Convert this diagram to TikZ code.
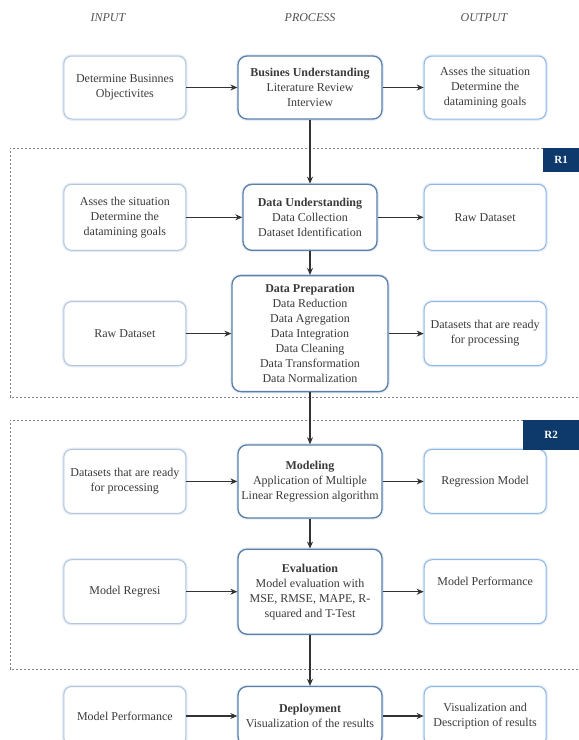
\documentclass[tikz,border=0pt]{standalone}
\usepackage{fontspec}
\setmainfont{Liberation Serif}
\usetikzlibrary{positioning,arrows.meta}
\definecolor{txt}{HTML}{3A3A3A}
\definecolor{procline}{HTML}{5B7FA8}
\definecolor{inline}{HTML}{B3C6DD}
\definecolor{outline}{HTML}{8DB8E6}
\definecolor{glow}{HTML}{E4ECF6}
\definecolor{tagblue}{HTML}{0E3A6B}
\definecolor{dashgray}{HTML}{858585}

\begin{document}
\begin{tikzpicture}
                [%%%%%%%%%%%%%%%%%%%%%%%%%%%%%%%%%%%%%%%%%%%%%%%%%%%%%%%%%%
                    x=1pt,y=-1pt,node distance=51pt,>={Stealth[length=7pt,width=6pt]},
                    font=\fontsize{12}{15}\selectfont,text=txt,
                    proc/.style={rectangle,rounded corners=9pt,draw=procline,line width=1.3pt,fill=white,
                                 align=center,inner sep=2pt,minimum width=144pt,minimum height=63pt,
                                 preaction={draw=glow,line width=3.5pt}},
                    inbox/.style={rectangle,rounded corners=8pt,draw=inline,line width=1pt,fill=white,
                                  align=center,inner sep=2pt,minimum width=122pt,minimum height=64pt,
                                  preaction={draw=glow,line width=3.5pt}},
                    outbox/.style={inbox,draw=outline},
                    head/.style={font=\fontsize{12}{15}\selectfont\itshape,text=black!68},
                    tag/.style={rectangle,fill=tagblue,text=white,anchor=north west,inner sep=0pt,
                                font=\fontsize{11}{13}\selectfont\bfseries},
                    region/.style={draw=dashgray,line width=1pt,dash pattern=on 2.4pt off 1.6pt},
                    flow/.style={->,line width=1.1pt,draw=black!80}
                ]%%%%%%%%%%%%%%%%%%%%%%%%%%%%%%%%%%%%%%%%%%%%%%%%%%%%%%%%%%
                \useasboundingbox (0,0) rectangle (579,740);

                \node[head] (hin) at (108,18) {INPUT};
                \node[head] (hpr) at (310,18) {PROCESS};
                \node[head] (hout) at (484,18) {OUTPUT};

                % process column
                \node[proc] (bu) at (310,87.5) {\textbf{Busines Understanding}\\Literature Review\\Interview};
                \node[proc,minimum width=134pt,minimum height=66pt] (du) [below=64pt of bu] {\textbf{Data Understanding}\\Data Collection\\Dataset Identification};
                \node[proc,minimum width=156pt,minimum height=116pt] (dp) [below=24pt of du] {\textbf{Data Preparation}\\Data Reduction\\Data Agregation\\Data Integration\\Data Cleaning\\Data Transformation\\Data Normalization};
                \node[proc,minimum height=73pt] (mo) [below=52pt of dp] {\textbf{Modeling}\\Application of Multiple\\Linear Regression algorithm};
                \node[proc,minimum height=85pt] (ev) [below=30pt of mo] {\textbf{Evaluation}\\Model evaluation with\\MSE, RMSE, MAPE, R-\\squared and T-Test};
                \node[proc,minimum height=59pt] (de) [below=51pt of ev] {\textbf{Deployment}\\Visualization of the results};

                % input column
                \node[inbox,minimum height=63pt] (in1) [left=of bu] {Determine Businnes\\Objectivites};
                \node[inbox,minimum height=66pt] (in2) [left=56pt of du] {Asses the situation\\Determine the\\datamining goals};
                \node[inbox] (in3) [left=45pt of dp] {Raw Dataset};
                \node[inbox] (in4) [left=of mo] {Datasets that are ready\\for processing};
                \node[inbox] (in5) [left=of ev] {Model Regresi};
                \node[inbox,minimum height=59pt] (in6) [left=of de] {Model Performance};

                % output column
                \node[outbox,minimum height=63pt] (out1) [right=41pt of bu] {Asses the situation\\Determine the\\datamining goals};
                \node[outbox,minimum height=66pt] (out2) [right=46pt of du] {Raw Dataset};
                \node[outbox] (out3) [right=35pt of dp] {Datasets that are ready\\for processing};
                \node[outbox] (out4) [right=41pt of mo] {Regression Model};
                \node[outbox] (out5) [right=41pt of ev] {Model Performance\\[6pt]};
                \node[outbox,minimum height=59pt] (out6) [right=41pt of de] {Visualization and\\Description of results};

                % regions
                \node[tag,minimum width=36pt,minimum height=24pt] (r1) at (543,148) {R1};
                \node[tag,minimum width=56pt,minimum height=30pt] (r2) at (523,420) {R2};
                \draw[region] (r1.north west) -- (10,148) -- (10,397) -- (579,397);
                \draw[region] (r2.north west) -- (10,420) -- (10,669) -- (579,669);

                \foreach \p/\i/\o in {bu/in1/out1,du/in2/out2,dp/in3/out3,mo/in4/out4,ev/in5/out5,de/in6/out6}
                {
                    \draw[flow] (\i) -- (\p);
                    \draw[flow] (\p) -- (\o);
                }
                \draw[flow] (bu) -- (du);
                \draw[flow] (du) -- (dp);
                \draw[flow] (dp) -- (mo);
                \draw[flow] (mo) -- (ev);
                \draw[flow] (ev) -- (de);
            \end{tikzpicture}
\end{document}
